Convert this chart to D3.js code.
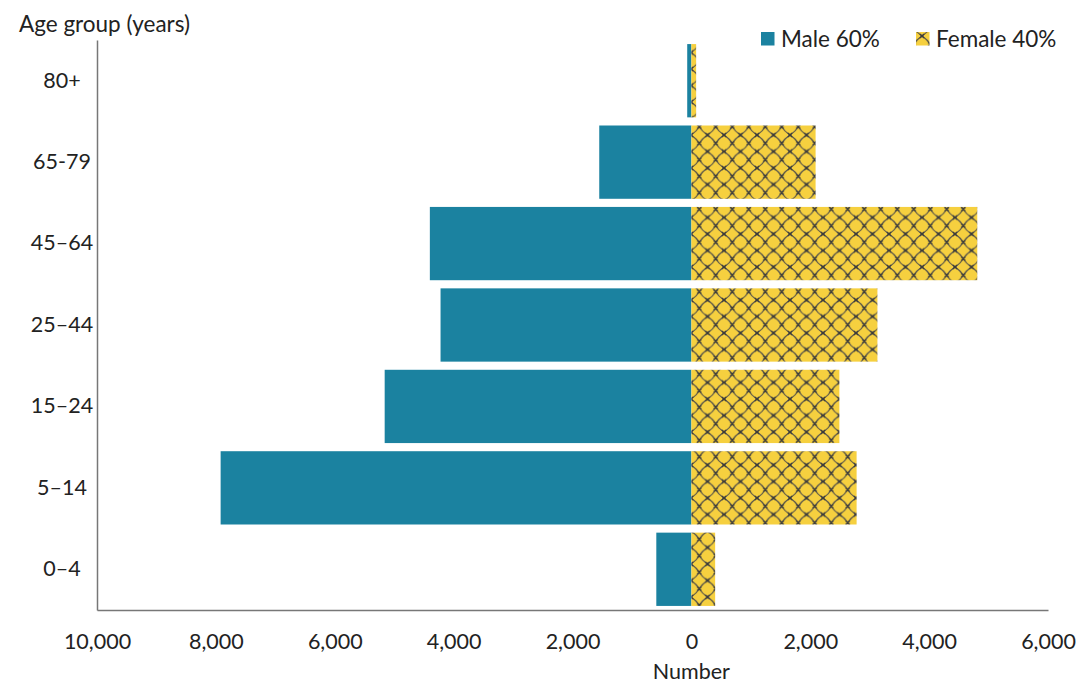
<!DOCTYPE html>
<html><head><meta charset="utf-8">
<script src="https://cdn.jsdelivr.net/npm/d3@7"></script>
<style>body{margin:0;background:#fff;} text{font-family:Lato,"Open Sans",sans-serif;fill:#222;}</style>
</head><body>
<svg id="c" width="1080" height="683"></svg>
<script>
const ageGroups = ["80+","65-79","45\u201364","25\u201344","15\u201324","5\u201314","0\u20134"];
const male = [70,1550,4400,4220,5160,7920,590];
const female = [80,2090,4810,3130,2490,2780,400];
const xTicks = [-10000,-8000,-6000,-4000,-2000,0,2000,4000,6000];
const legendLabels = ["Male 60%","Female 40%"];

const svg = d3.select("#c");
const x = d3.scaleLinear().domain([-10000,6000]).range([97,1048]);
const y = d3.scaleBand().domain(ageGroups).range([40,610]).paddingInner(0.1).paddingOuter(0.05);
const maleCol = "#1B82A0", femCol = "#F6D03F";
const FF = "Lato,'Open Sans',sans-serif";

const P = 16.5, H = P/2;
const a = 0.62, b = 0.38;
const defs = svg.append("defs");
const pat = defs.append("pattern").attr("id","hatch").attr("patternUnits","userSpaceOnUse")
  .attr("width",P).attr("height",P).attr("x",691).attr("y",36);
pat.append("rect").attr("width",P).attr("height",P).attr("fill",femCol);
pat.append("path").attr("d",
  `M0,0 Q${H*a},${H*b} ${H},${H} Q${H*(2-a)},${H*(2-b)} ${P},${P} M${P},0 Q${H*(2-a)},${H*b} ${H},${H} Q${H*a},${H*(2-b)} 0,${P}`)
  .attr("stroke","#4a4a4a").attr("stroke-width",1.1).attr("fill","none");
pat.append("path").attr("d",
  `M${H-2},${H-2} L${H+2},${H+2} M${H+2},${H-2} L${H-2},${H+2} M-2,-2 L2,2 M${P-2},-2 L${P+2},2 M-2,${P-2} L2,${P+2} M${P-2},${P-2} L${P+2},${P+2} M2,-2 L-2,2 M${P+2},-2 L${P-2},2 M2,${P-2} L-2,${P+2} M${P+2},${P-2} L${P-2},${P+2}`)
  .attr("stroke","#3a3a3a").attr("stroke-width",1.4);

svg.selectAll("rect.m").data(ageGroups).join("rect").attr("class","m")
  .attr("x",(d,i)=>x(-male[i])).attr("width",(d,i)=>x(0)-x(-male[i]))
  .attr("y",d=>y(d)).attr("height",y.bandwidth()).attr("fill",maleCol);
svg.selectAll("rect.f").data(ageGroups).join("rect").attr("class","f")
  .attr("x",x(0)).attr("width",(d,i)=>x(female[i])-x(0))
  .attr("y",d=>y(d)).attr("height",y.bandwidth()).attr("fill","url(#hatch)");

const xa = svg.append("g").attr("transform","translate(0,610)")
  .call(d3.axisBottom(x).tickValues(xTicks).tickSize(0).tickPadding(24).tickFormat(d=>d3.format(",")(Math.abs(d))));
xa.select(".domain").attr("stroke","#777").attr("stroke-width",1.5);
xa.selectAll("text").attr("font-size",21.5).attr("fill","#222").style("font-family",FF);
const ya = svg.append("g").attr("transform","translate(97,0)")
  .call(d3.axisLeft(y).tickSize(0).tickPadding(22));
ya.select(".domain").attr("stroke","#777").attr("stroke-width",1.5);
ya.selectAll("text").attr("font-size",21.5).attr("fill","#222").attr("text-anchor","middle").attr("x",-35).style("font-family",FF);

svg.append("text").attr("x",19).attr("y",32).attr("font-size",22.5).text("Age group (years)");
svg.append("text").attr("x",x(0)).attr("y",679).attr("text-anchor","middle").attr("font-size",21.5).text("Number");

const lg = svg.append("g");
const lx = [761,916];
lg.selectAll("rect").data(legendLabels).join("rect")
  .attr("x",(d,i)=>lx[i]).attr("y",32).attr("width",13.5).attr("height",13.5)
  .attr("fill",(d,i)=>i===0?maleCol:"url(#hatch)");
lg.selectAll("text").data(legendLabels).join("text")
  .attr("x",(d,i)=>lx[i]+20).attr("y",47).attr("font-size",22.5).attr("fill","#3a3a3a").text(d=>d);
</script>
</body></html>
